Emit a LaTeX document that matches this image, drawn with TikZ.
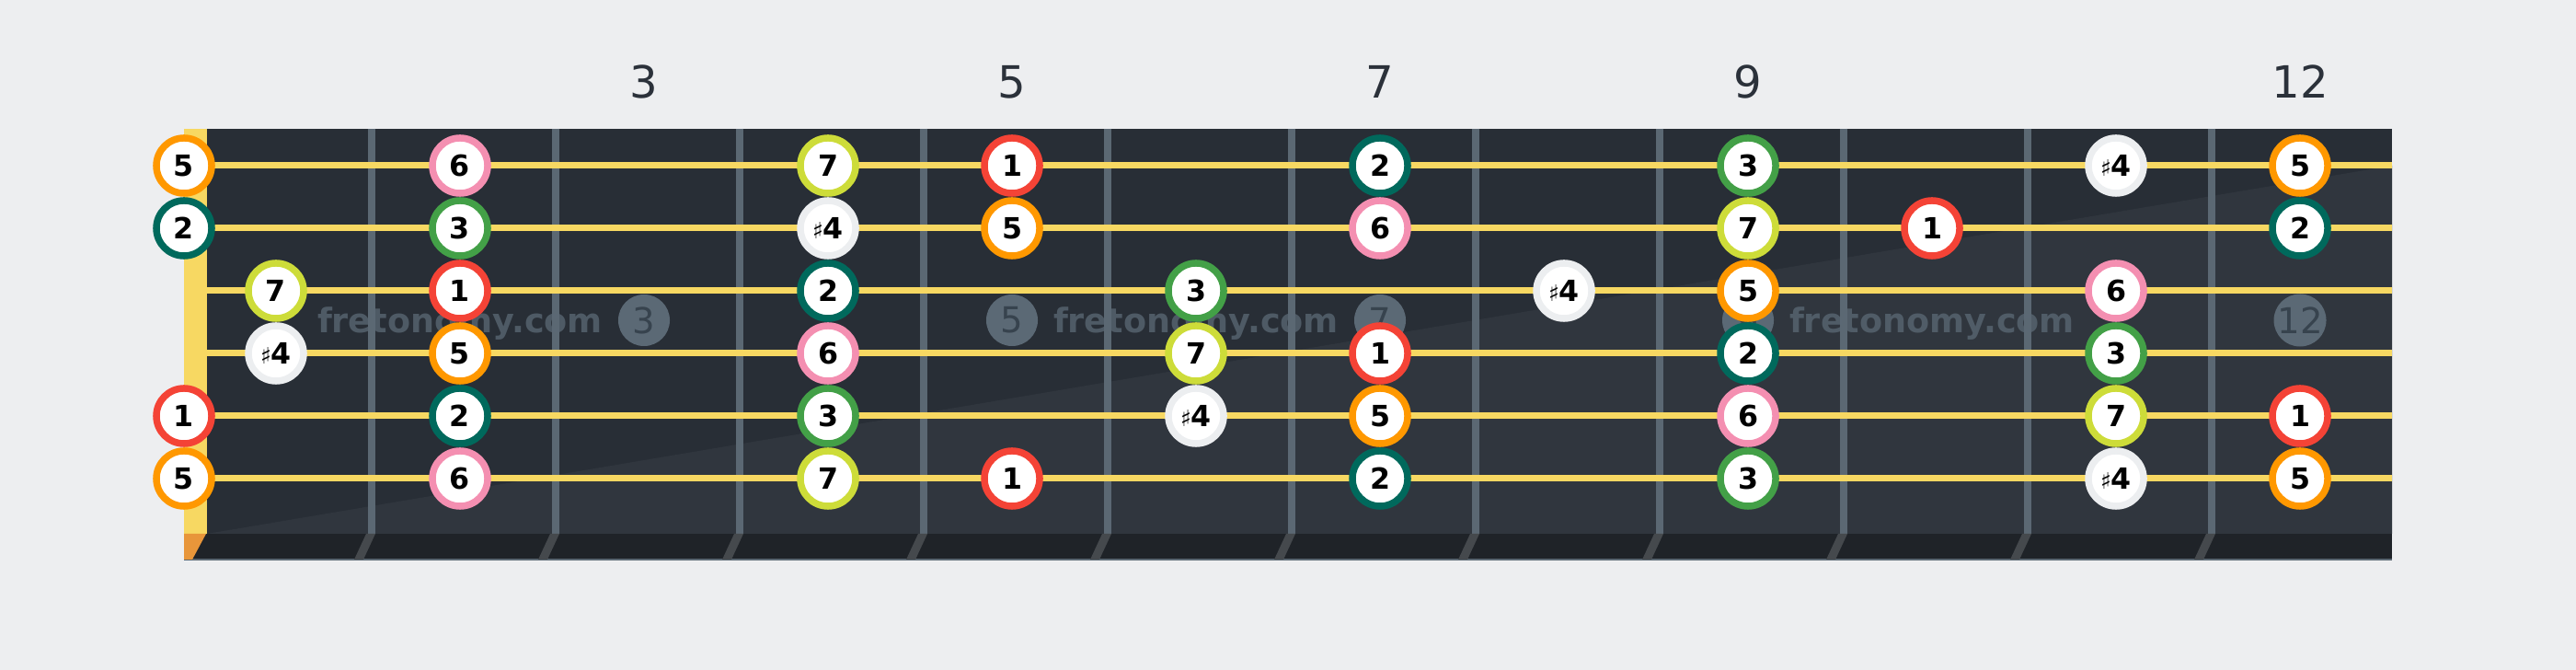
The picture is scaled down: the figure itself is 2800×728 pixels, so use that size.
\documentclass[tikz,border=0pt]{standalone}
\usepackage{fontspec}
\setmainfont{DejaVu Sans}
\usepackage{tikz}
\definecolor{bg}{HTML}{EDEEF0}
\definecolor{board}{HTML}{282E36}
\definecolor{boardlight}{HTML}{30363E}
\definecolor{boardedge}{HTML}{1F2328}
\definecolor{fretgray}{HTML}{5B6873}
\definecolor{fretend}{HTML}{45494D}
\definecolor{stringyellow}{HTML}{F7D862}
\definecolor{nutorange}{HTML}{E8963A}
\definecolor{inlay}{HTML}{5B6975}
\definecolor{inlaytext}{HTML}{37434E}
\definecolor{labeltext}{HTML}{2B313A}
\definecolor{deg1}{HTML}{F44336}
\definecolor{deg2}{HTML}{00695C}
\definecolor{deg3}{HTML}{43A047}
\definecolor{deg4}{HTML}{ECEEF0}
\definecolor{deg5}{HTML}{FF9800}
\definecolor{deg6}{HTML}{F48FB1}
\definecolor{deg7}{HTML}{CDDC39}
\tikzstyle{noteNode} = [
                circle,
                minimum size = 0.6cm,
                inner sep=0pt,
                fill=white,
                line width=0.075cm,
                text=black,
                text height=6.6pt,
                text depth=0pt,
                font=\fontsize{9}{9}\selectfont\bfseries
            ]
\tikzstyle{inlayNode} = [circle, minimum size=0.56cm, inner sep=0pt, fill=inlay, text=inlaytext, font=\fontsize{11}{11}\selectfont]
\tikzstyle{fretLabel} = [anchor=base, text=labeltext, font=\fontsize{13.7}{14}\selectfont]
\tikzstyle{watermark} = [anchor=base, text=inlay, opacity=0.75, font=\fontsize{10.4}{11}\selectfont\bfseries]
\tikzstyle{guitarString} = [stringyellow, line width=0.07cm]
\tikzstyle{fretwire} = [fretgray, line width=0.08cm]
\newcommand{\notelabel}[1]{\ifnum#1=4 {\mdseries\fontsize{7}{7}\selectfont ♯}4\else #1\fi}

\begin{document}
\begin{tikzpicture}[x=0.01cm, y=-0.01cm]
\fill [bg] (0,0) rectangle (2800,728);
% fretboard
\fill [board] (225,140) rectangle (2600,580);
\fill [boardlight] (225,580) -- (2600,180) -- (2600,580) -- cycle;
\fill [boardedge] (200,580) rectangle (2600,608);
\draw [fretgray, line width=0.015cm] (200,608) -- (2600,608);
\fill [stringyellow] (200,140) rectangle (225,580);
\fill [nutorange] (200,580) -- (224,580) -- (209,608) -- (200,608) -- cycle;
% frets
\foreach \k in {1,...,11} {
    \draw [fretwire] ({204+200*\k},140) -- ({204+200*\k},580);
    \fill [fretend] ({198+200*\k},580) -- ({208+200*\k},580) -- ({195+200*\k},608) -- ({185+200*\k},608) -- cycle;
}
% inlays and fret numbers
\foreach \n in {3,5,7,9,12} {
    \node (dot\n) [inlayNode] at ({100+200*\n},348) {\n};
    \node (fret\n) [fretLabel] at ({100+200*\n},107) {\n};
}
% strings
\foreach \s in {1,...,6}
    \draw [guitarString] (225,{112+68*\s}) -- (2600,{112+68*\s});
% watermark
\foreach \w/\x in {1/500,2/1300,3/2100}
    \node (mark\w) [watermark] at (\x,362) {fretonomy.com};
% notes: string / {fret/degree}
\foreach \s/\notes in {
        1/{0/5,2/6,4/7,5/1,7/2,9/3,11/4,12/5},
        2/{0/2,2/3,4/4,5/5,7/6,9/7,10/1,12/2},
        3/{1/7,2/1,4/2,6/3,8/4,9/5,11/6},
        4/{1/4,2/5,4/6,6/7,7/1,9/2,11/3},
        5/{0/1,2/2,4/3,6/4,7/5,9/6,11/7,12/1},
        6/{0/5,2/6,4/7,5/1,7/2,9/3,11/4,12/5}}
    \foreach \f/\d in \notes
        \node (s\s-\f) [noteNode, draw=deg\d] at ({max(200,100+200*\f)},{112+68*\s}) {\notelabel{\d}};
\end{tikzpicture}
\end{document}
